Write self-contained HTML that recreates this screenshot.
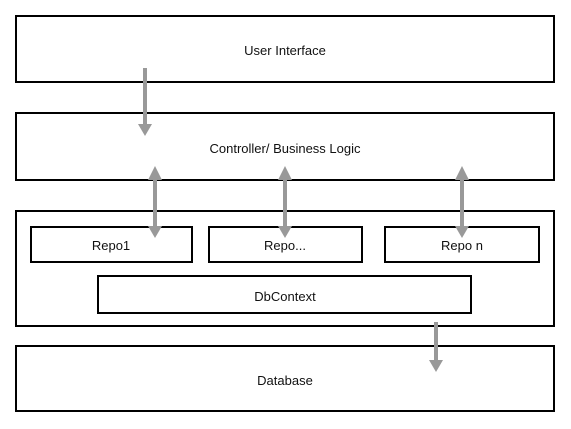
<!DOCTYPE html>
<html><head><meta charset="utf-8"><style>
html,body{margin:0;padding:0;background:#fff;}
svg{display:block;}
text{font-family:"Liberation Sans",sans-serif;font-size:13px;fill:#111;text-anchor:middle;}
</style></head><body>
<svg width="571" height="429" viewBox="0 0 571 429" xmlns="http://www.w3.org/2000/svg">
<g fill="#fff" stroke="#000" stroke-width="2">
<rect x="16" y="16" width="538" height="66"/>
<rect x="16" y="113" width="538" height="67"/>
<rect x="16" y="211" width="538" height="115"/>
<rect x="16" y="346" width="538" height="65"/>
<rect x="31" y="227" width="161" height="35"/>
<rect x="209" y="227" width="153" height="35"/>
<rect x="385" y="227" width="154" height="35"/>
<rect x="98" y="276" width="373" height="37"/>
</g>
<text x="285" y="55">User Interface</text>
<text x="285" y="153">Controller/ Business Logic</text>
<text x="111" y="250">Repo1</text>
<text x="285" y="250">Repo...</text>
<text x="462" y="250">Repo n</text>
<text x="285" y="301">DbContext</text>
<text x="285" y="385">Database</text>
<g stroke="#999" stroke-width="4" fill="#999">
<line x1="145" y1="68" x2="145" y2="126"/>
<polygon points="138,124 152,124 145,136" stroke="none"/>
<line x1="436" y1="322" x2="436" y2="362"/>
<polygon points="429,360 443,360 436,372" stroke="none"/>
<line x1="155" y1="176" x2="155" y2="229"/>
<polygon points="148,180 162,180 155,166" stroke="none"/>
<polygon points="148,226 162,226 155,238" stroke="none"/>
<line x1="285" y1="176" x2="285" y2="229"/>
<polygon points="278,180 292,180 285,166" stroke="none"/>
<polygon points="278,226 292,226 285,238" stroke="none"/>
<line x1="462" y1="176" x2="462" y2="229"/>
<polygon points="455,180 469,180 462,166" stroke="none"/>
<polygon points="455,226 469,226 462,238" stroke="none"/>
</g>
</svg>
</body></html>
